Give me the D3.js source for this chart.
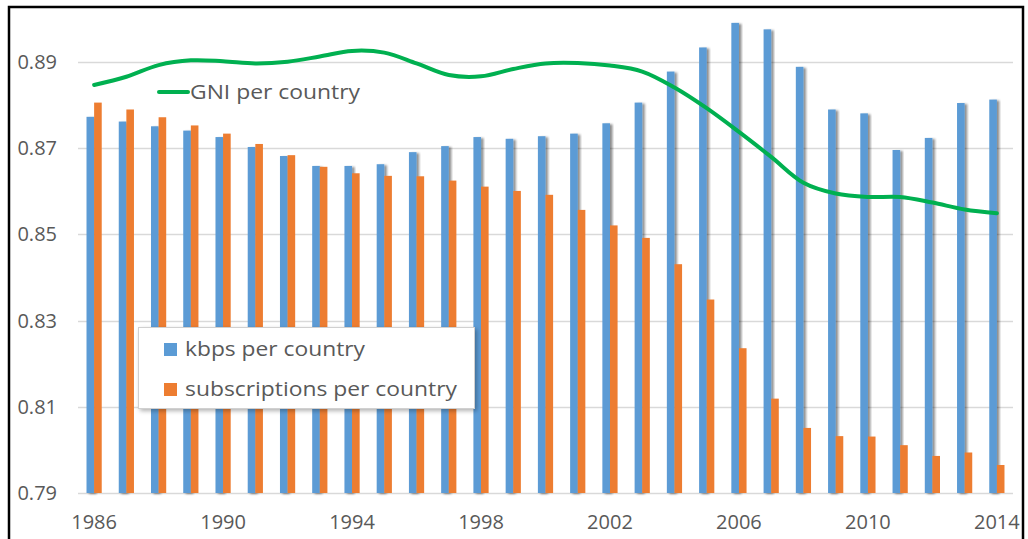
<!DOCTYPE html>
<html>
<head>
<meta charset="utf-8">
<script src="https://cdn.jsdelivr.net/npm/d3@7"></script>
<style>
  body { margin: 0; background: #fff; }
  svg text { font-family: 'Open Sans', sans-serif; fill: #595959; }
</style>
</head>
<body>
<div id="chart"></div>
<script>
const years = d3.range(1986, 2015)
const kbps = [0.8773, 0.8762, 0.8751, 0.8741, 0.8726, 0.8703, 0.8682, 0.8659, 0.8659, 0.8663,
    0.8691, 0.8705, 0.8726, 0.8722, 0.8728, 0.8734, 0.8758, 0.8806, 0.8878, 0.8934,
    0.8991, 0.8976, 0.8889, 0.8790, 0.8781, 0.8696, 0.8724, 0.8805, 0.8813]
const subscriptions = [0.8806, 0.8790, 0.8772, 0.8753, 0.8734, 0.8710, 0.8684, 0.8657, 0.8642, 0.8636,
    0.8635, 0.8625, 0.8611, 0.8601, 0.8592, 0.8557, 0.8521, 0.8492, 0.8431, 0.8349,
    0.8236, 0.8119, 0.8051, 0.8032, 0.8031, 0.8011, 0.7986, 0.7994, 0.7965]
const gni = [0.8847, 0.8866, 0.8893, 0.8904, 0.8902, 0.8897, 0.8901, 0.8913, 0.8926, 0.8922,
    0.8897, 0.8870, 0.8867, 0.8884, 0.8897, 0.8898, 0.8892, 0.8878, 0.8841, 0.8793,
    0.8738, 0.8680, 0.8620, 0.8595, 0.8587, 0.8587, 0.8574, 0.8558, 0.8549]
const yTicks = [0.79, 0.81, 0.83, 0.85, 0.87, 0.89]
const xTickYears = [1986, 1990, 1994, 1998, 2002, 2006, 2010, 2014]
const seriesNames = ['kbps per country', 'subscriptions per country']
const lineName = 'GNI per country'

const width = 1028
const height = 539
const plot = { left: 78, right: 1013, top: 19, bottom: 493 }
const colors = { kbps: '#5b9bd5', subs: '#ed7d31', gni: '#00b050' }

const svg = d3.select('#chart').append('svg')
    .attr('width', width)
    .attr('height', height)

const defs = svg.append('defs')
defs.append('filter')
    .attr('id', 'shadow')
    .attr('x', '-50%').attr('y', '-10%').attr('width', '200%').attr('height', '120%')
    .append('feDropShadow')
    .attr('dx', 2.5).attr('dy', 1).attr('stdDeviation', 1.3)
    .attr('flood-color', '#000').attr('flood-opacity', 0.45)
defs.append('filter')
    .attr('id', 'boxShadow')
    .attr('x', '-10%').attr('y', '-10%').attr('width', '120%').attr('height', '130%')
    .append('feDropShadow')
    .attr('dx', 2).attr('dy', 2).attr('stdDeviation', 2)
    .attr('flood-color', '#000').attr('flood-opacity', 0.3)

const x0 = d3.scaleBand().domain(years).range([plot.left, plot.right]).padding(0)
const x1 = d3.scaleBand().domain(['kbps', 'subs']).range([0, x0.bandwidth()])
    .paddingInner(0).paddingOuter(1.12)
const y = d3.scaleLinear().domain([0.79, 0.90]).range([plot.bottom, plot.top])

// gridlines
svg.append('g')
    .selectAll('line')
    .data(yTicks)
    .enter()
    .append('line')
    .attr('x1', plot.left)
    .attr('x2', plot.right)
    .attr('y1', d => Math.round(y(d)) + 0.5)
    .attr('y2', d => Math.round(y(d)) + 0.5)
    .attr('stroke', '#d9d9d9')
    .attr('stroke-width', 1.3)

// y tick labels
svg.append('g')
    .selectAll('text')
    .data(yTicks)
    .enter()
    .append('text')
    .attr('x', 57)
    .attr('y', d => y(d))
    .attr('dy', '0.35em')
    .attr('text-anchor', 'end')
    .style('font-size', '20px')
    .text(d => d3.format('.2f')(d))

// x tick labels
svg.append('g')
    .selectAll('text')
    .data(xTickYears)
    .enter()
    .append('text')
    .attr('x', d => x0(d) + x0.bandwidth() / 2)
    .attr('y', 529)
    .attr('text-anchor', 'middle')
    .style('font-size', '20px')
    .text(d => d)

// bars
const rows = years.map((yr, i) => ({ year: yr, kbps: kbps[i], subs: subscriptions[i] }))
const group = svg.append('g')
    .selectAll('g')
    .data(rows)
    .enter()
    .append('g')
    .attr('transform', d => 'translate(' + x0(d.year) + ',0)')

group.append('rect')
    .attr('x', x1('kbps'))
    .attr('width', x1.bandwidth())
    .attr('y', d => y(d.kbps))
    .attr('height', d => y(0.79) - y(d.kbps))
    .attr('fill', colors.kbps)
    .attr('filter', 'url(#shadow)')

group.append('rect')
    .attr('x', x1('subs'))
    .attr('width', x1.bandwidth())
    .attr('y', d => y(d.subs))
    .attr('height', d => y(0.79) - y(d.subs))
    .attr('fill', colors.subs)

// GNI line
const line = d3.line()
    .x((d, i) => x0(years[i]) + x0.bandwidth() / 2)
    .y(d => y(d))
    .curve(d3.curveCatmullRom.alpha(0.5))

svg.append('path')
    .datum(gni)
    .attr('d', line)
    .attr('fill', 'none')
    .attr('stroke', colors.gni)
    .attr('stroke-width', 4)
    .attr('stroke-linecap', 'round')
    .attr('stroke-linejoin', 'round')

// line legend
svg.append('line')
    .attr('x1', 159).attr('x2', 188)
    .attr('y1', 92).attr('y2', 92)
    .attr('stroke', colors.gni)
    .attr('stroke-width', 4)
    .attr('stroke-linecap', 'round')
svg.append('text')
    .attr('x', 190)
    .attr('y', 92)
    .attr('dy', '0.35em')
    .attr('textLength', 170)
    .attr('lengthAdjust', 'spacingAndGlyphs')
    .style('font-size', '20px')
    .text(lineName)

// bar legend box
const legend = svg.append('g')
legend.append('rect')
    .attr('x', 138.5).attr('y', 327.5)
    .attr('width', 336).attr('height', 81)
    .attr('fill', '#fff')
    .attr('stroke', '#d0d0d0')
    .attr('filter', 'url(#boxShadow)')

const legendWidths = [180, 272]
const legendItem = legend.selectAll('g')
    .data(seriesNames)
    .enter()
    .append('g')
    .attr('transform', (d, i) => 'translate(164,' + (349 + i * 40) + ')')
legendItem.append('rect')
    .attr('y', -6)
    .attr('width', 13)
    .attr('height', 13)
    .attr('fill', (d, i) => i === 0 ? colors.kbps : colors.subs)
legendItem.append('text')
    .attr('x', 21)
    .attr('dy', '0.35em')
    .attr('textLength', (d, i) => legendWidths[i])
    .attr('lengthAdjust', 'spacingAndGlyphs')
    .style('font-size', '20px')
    .text(d => d)

// outer frame
svg.append('rect')
    .attr('x', 9).attr('y', 7)
    .attr('width', 1014).attr('height', 560)
    .attr('fill', 'none')
    .attr('stroke', '#000')
    .attr('stroke-width', 2.5)
</script>
</body>
</html>
